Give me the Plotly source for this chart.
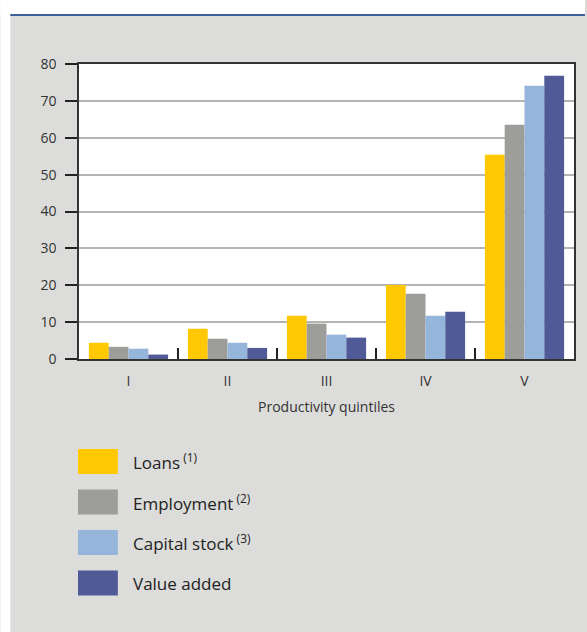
import plotly.graph_objects as go

categories = ["I", "II", "III", "IV", "V"]
series_names = ["Loans<sup> (1)</sup>", "Employment<sup> (2)</sup>", "Capital stock<sup> (3)</sup>", "Value added"]
loans = [4.4, 8.2, 11.7, 20.1, 55.4]
employment = [3.3, 5.5, 9.6, 17.7, 63.5]
capital_stock = [2.8, 4.4, 6.6, 11.7, 74.1]
value_added = [1.2, 3.0, 5.8, 12.8, 76.8]
y_ticks = [0, 10, 20, 30, 40, 50, 60, 70, 80]
colors = ["#FFC800", "#9D9E9A", "#96B5DB", "#4F5A97"]

W, H = 587, 632
ML, MR, MT, MB = 79, 11, 64, 273
PW, PH = W - ML - MR, H - MT - MB


def px(x):
    return (x - ML) / PW


def py(y):
    return 1 - (y - MT) / PH


font = "Open Sans, Noto Sans, sans-serif"
fig = go.Figure()
for name, vals, c in zip(series_names, [loans, employment, capital_stock, value_added], colors):
    fig.add_trace(go.Bar(x=categories, y=vals, name=name, marker=dict(color=c, line=dict(width=0)),
                         showlegend=False))

shapes = [
    dict(type="rect", xref="paper", yref="paper", x0=px(0), x1=px(W), y0=py(0), y1=py(14.5),
         fillcolor="white", line=dict(width=0), layer="below"),
    dict(type="rect", xref="paper", yref="paper", x0=px(0), x1=px(10), y0=py(H), y1=py(0),
         fillcolor="white", line=dict(width=0), layer="below"),
    dict(type="line", xref="paper", yref="paper", x0=px(10), x1=px(W), y0=py(15), y1=py(15),
         line=dict(color="#3D6196", width=2)),
]
annotations = []
for i, (name, c) in enumerate(zip(series_names, colors)):
    top = 449 + i * 40.5
    shapes.append(dict(type="rect", xref="paper", yref="paper", x0=px(78), x1=px(118),
                       y0=py(top + 25), y1=py(top), fillcolor=c, line=dict(width=0)))
    annotations.append(dict(xref="paper", yref="paper", x=px(131), y=py(top + 12.5), text=name,
                            showarrow=False, xanchor="left", yanchor="middle",
                            font=dict(size=17, color="#222", family=font)))

fig.update_layout(
    width=W, height=H,
    margin=dict(l=ML, r=MR, t=MT, b=MB),
    paper_bgcolor="#DCDCDA", plot_bgcolor="white",
    barmode="group", bargap=0.2, bargroupgap=0,
    font=dict(family=font, size=14, color="#333"),
    shapes=shapes, annotations=annotations,
    xaxis=dict(type="category", range=[-0.5, 4.5], tickson="boundaries", ticks="inside", ticklen=11,
               tickwidth=1.5, tickcolor="#222", showline=True, mirror=True, linecolor="#333", linewidth=1.5,
               showgrid=False, ticklabelstandoff=8,
               title=dict(text="Productivity quintiles", standoff=14, font=dict(size=14, color="#333")),
               tickfont=dict(size=14, color="#333")),
    yaxis=dict(range=[0, 80], tickvals=y_ticks, ticks="outside", ticklen=12, tickwidth=1.5,
               tickcolor="#222", showline=True, mirror=True, linecolor="#333", linewidth=1.5,
               showgrid=True, gridcolor="#B4B4B4", gridwidth=1.5, zeroline=False, ticklabelstandoff=6,
               tickfont=dict(size=14, color="#333")),
)
fig.write_html("out.html", config={"displayModeBar": False},
               post_script="document.body.style.margin='0';document.body.style.overflow='hidden';")
